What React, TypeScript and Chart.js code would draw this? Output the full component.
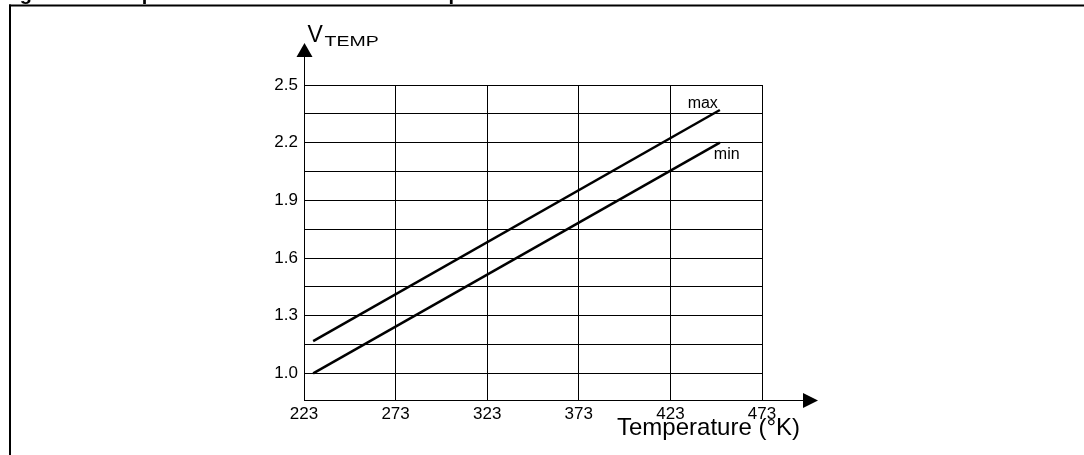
import React, { useEffect, useRef } from "react";
import { Chart, registerables } from "chart.js";

Chart.register(...registerables);

// ---- data ----
const temperatureTicks = [223, 273, 323, 373, 423, 473];
const voltageGrid = [1.0, 1.15, 1.3, 1.45, 1.6, 1.75, 1.9, 2.05, 2.2, 2.35, 2.5];
const voltageLabels = [1.0, 1.3, 1.6, 1.9, 2.2, 2.5];
const seriesNames = ["max", "min"];
const maxTemps = [228, 450];
const maxVolts = [1.168, 2.37];
const minTemps = [228, 450];
const minVolts = [1.0, 2.2];
const yAxisTitleMain = "V";
const yAxisTitleSub = "TEMP";
const xAxisTitle = "Temperature (°K)";
const figureTitle = "Figure 16. Temperature sensor: VTEMP vs. temperature";

const TICKFONT = "'Liberation Sans Narrow', 'Liberation Sans', Arial, sans-serif";
const SANS = "'Liberation Sans', Arial, Helvetica, sans-serif";

const decorations = {
  id: "decorations",
  afterDraw(chart: any) {
    const ctx = chart.ctx as CanvasRenderingContext2D;
    const area = chart.chartArea;
    const xs = chart.scales.x;
    const ys = chart.scales.y;
    ctx.save();
    ctx.fillStyle = "#000";
    ctx.strokeStyle = "#000";

    // clipped figure title at the very top
    ctx.font = `bold 20px ${SANS}`;
    ctx.textAlign = "left";
    ctx.textBaseline = "alphabetic";
    ctx.fillText(figureTitle, 2, 0);

    // frame (top + left)
    ctx.fillRect(9, 4.5, 1084 - 9, 2);
    ctx.fillRect(9, 4.5, 2, 455);

    // y-axis extension + arrow
    const ax = Math.round(area.left) + 0.5;
    ctx.lineWidth = 1;
    ctx.beginPath();
    ctx.moveTo(ax, area.top);
    ctx.lineTo(ax, 56);
    ctx.stroke();
    ctx.beginPath();
    ctx.moveTo(ax, 43);
    ctx.lineTo(ax - 8, 57);
    ctx.lineTo(ax + 8, 57);
    ctx.closePath();
    ctx.fill();

    // x-axis extension + arrow
    const ay = Math.round(area.bottom) + 0.5;
    ctx.beginPath();
    ctx.moveTo(area.right, ay);
    ctx.lineTo(804, ay);
    ctx.stroke();
    ctx.beginPath();
    ctx.moveTo(818, ay);
    ctx.lineTo(803, ay - 7.5);
    ctx.lineTo(803, ay + 7.5);
    ctx.closePath();
    ctx.fill();

    // y axis title V_TEMP
    ctx.textAlign = "left";
    ctx.textBaseline = "alphabetic";
    ctx.font = `23px ${SANS}`;
    ctx.fillText(yAxisTitleMain, 307.5, 41.8);
    ctx.save();
    ctx.translate(324.5, 45.8);
    ctx.scale(1.3, 1);
    ctx.font = `15px ${SANS}`;
    ctx.fillText(yAxisTitleSub, 0, 0);
    ctx.restore();

    // x axis title
    ctx.font = `24px ${SANS}`;
    ctx.fillText(xAxisTitle, 617, 435);

    // series labels at the line ends
    ctx.font = `16px ${SANS}`;
    const mx = xs.getPixelForValue(maxTemps[maxTemps.length - 1]);
    const my = ys.getPixelForValue(maxVolts[maxVolts.length - 1]);
    ctx.textAlign = "right";
    ctx.fillText(seriesNames[0], mx - 2, my - 2);
    const nx = xs.getPixelForValue(minTemps[minTemps.length - 1]);
    const ny = ys.getPixelForValue(minVolts[minVolts.length - 1]);
    ctx.textAlign = "left";
    ctx.fillText(seriesNames[1], nx - 6, ny + 16);

    ctx.restore();
  },
};

export default function App() {
  const ref = useRef<HTMLCanvasElement | null>(null);

  useEffect(() => {
    if (!ref.current) return;
    const chart = new Chart(ref.current, {
      type: "line",
      data: {
        datasets: [
          {
            label: seriesNames[0],
            data: maxTemps.map((t, i) => ({ x: t, y: maxVolts[i] })),
            borderColor: "#000",
            borderWidth: 2.5,
            pointRadius: 0,
            borderCapStyle: "butt",
            fill: false,
          },
          {
            label: seriesNames[1],
            data: minTemps.map((t, i) => ({ x: t, y: minVolts[i] })),
            borderColor: "#000",
            borderWidth: 2.5,
            pointRadius: 0,
            borderCapStyle: "butt",
            fill: false,
          },
        ],
      },
      options: {
        animation: false,
        responsive: false,
        maintainAspectRatio: false,
        layout: { padding: { left: 244, top: 85, right: 322, bottom: 0 } },
        plugins: {
          legend: { display: false },
          tooltip: { enabled: false },
          title: { display: false },
        },
        scales: {
          x: {
            type: "linear",
            min: 223,
            max: 473,
            afterBuildTicks: (s: any) => {
              s.ticks = temperatureTicks.map((v) => ({ value: v }));
            },
            afterFit: (s: any) => {
              s.height = 55;
            },
            grid: { color: "#000", lineWidth: 1, drawTicks: false },
            border: { color: "#000", width: 1 },
            ticks: {
              color: "#000",
              font: { family: TICKFONT, size: 17 },
              padding: 4,
              maxRotation: 0,
              autoSkip: false,
              callback: (v: any) => String(v),
            },
          },
          y: {
            type: "linear",
            min: 0.862,
            max: 2.5,
            afterBuildTicks: (s: any) => {
              s.ticks = voltageGrid.map((v) => ({ value: v }));
            },
            afterFit: (s: any) => {
              s.width = 60;
            },
            grid: { color: "#000", lineWidth: 1, drawTicks: false },
            border: { color: "#000", width: 1 },
            ticks: {
              color: "#000",
              font: { family: TICKFONT, size: 17 },
              padding: 6,
              autoSkip: false,
              callback: (v: any) =>
                voltageLabels.some((l) => Math.abs(l - Number(v)) < 1e-6) ? Number(v).toFixed(1) : "",
            },
          },
        },
      },
      plugins: [decorations],
    } as any);
    return () => chart.destroy();
  }, []);

  return (
    <div style={{ position: "fixed", left: 0, top: 0, width: 1084, height: 455, background: "#fff" }}>
      <canvas ref={ref} width={1084} height={455} style={{ display: "block", width: 1084, height: 455 }} />
    </div>
  );
}
